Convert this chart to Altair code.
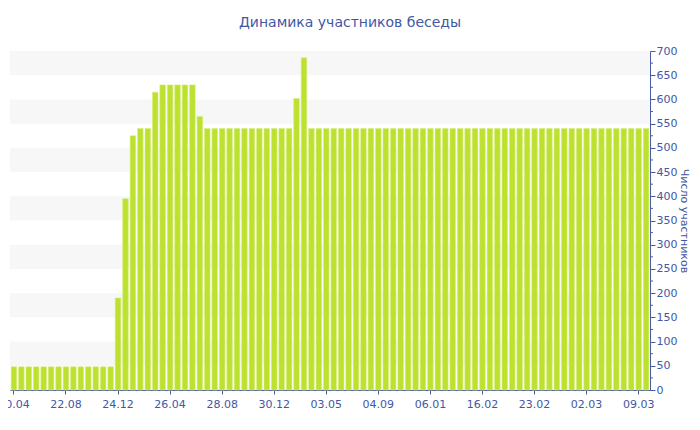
import altair as alt
import pandas as pd

tick_labels = ["20.04", "22.08", "24.12", "26.04", "28.08", "30.12", "03.05",
               "04.09", "06.01", "16.02", "23.02", "02.03", "09.03"]
values = ([48] * 14 + [190, 395, 525, 540, 540, 615] + [630] * 5 + [565]
          + [540] * 12 + [602, 686] + [540] * 46)
band_low = [50, 150, 250, 350, 450, 550, 650]
band_high = [100, 200, 300, 400, 500, 600, 700]
minor_ticks = [25, 75, 125, 175, 225, 275, 325, 375, 425, 475, 525, 575, 625, 675]

df = pd.DataFrame({"i": list(range(len(values))), "v": values})
bands = pd.DataFrame({"lo": band_low, "hi": band_high})
minors = pd.DataFrame({"m": minor_ticks})

AX = "#4a5ca8"
TXT = "#4257a3"
FONT = "DejaVu Sans"
W, H = 640, 339

yscale = alt.Scale(domain=[0, 700], nice=False)
label_expr = "[" + ",".join(f"'{t}'" for t in tick_labels) + "][datum.value / 7]"

y_axis = alt.Axis(orient="right", values=list(range(0, 701, 50)),
                  title="Число участников", titleColor=TXT, titleFont=FONT,
                  titleFontSize=11, titleFontWeight="normal", titlePadding=2,
                  domainColor=AX, tickColor=AX, tickSize=5, labelColor=TXT,
                  labelFont=FONT, labelFontSize=11, labelPadding=1, grid=False,
                  labelOverlap=False)

bars = alt.Chart(df).mark_bar(color="#bde12f", stroke="#d6ee80", strokeWidth=0.6).encode(
    x=alt.X("i:O", scale=alt.Scale(paddingInner=0.25, paddingOuter=0.15),
            axis=alt.Axis(values=list(range(0, 85, 7)), labelExpr=label_expr,
                          title=None, labelAngle=0, domainColor=AX, tickColor=AX,
                          tickSize=4, labelColor=TXT, labelFont=FONT, labelFontSize=11,
                          labelPadding=4, labelOverlap=False)),
    y=alt.Y("v:Q", scale=yscale, axis=y_axis),
)

band_layer = alt.Chart(bands).mark_rect(color="#f7f7f7").encode(
    x=alt.value(0), x2=alt.value(W),
    y=alt.Y("lo:Q", scale=yscale, axis=y_axis), y2="hi:Q",
)

minor_layer = alt.Chart(minors).mark_rule(color=AX, strokeWidth=1).encode(
    x=alt.value(W), x2=alt.value(W + 3),
    y=alt.Y("m:Q", scale=yscale, axis=y_axis),
)

chart = alt.layer(band_layer, bars, minor_layer).properties(
    width=W, height=H,
    autosize=alt.AutoSizeParams(type="none"),
    padding={"left": 2, "top": 43, "right": 42, "bottom": 26},
    title=alt.TitleParams("Динамика участников беседы", font=FONT, fontSize=14,
                          fontWeight="normal", color=TXT, anchor="middle",
                          offset=15, dx=20),
).configure_view(stroke=None)

chart.save("out.html", embed_options={"renderer": "svg", "actions": False})
